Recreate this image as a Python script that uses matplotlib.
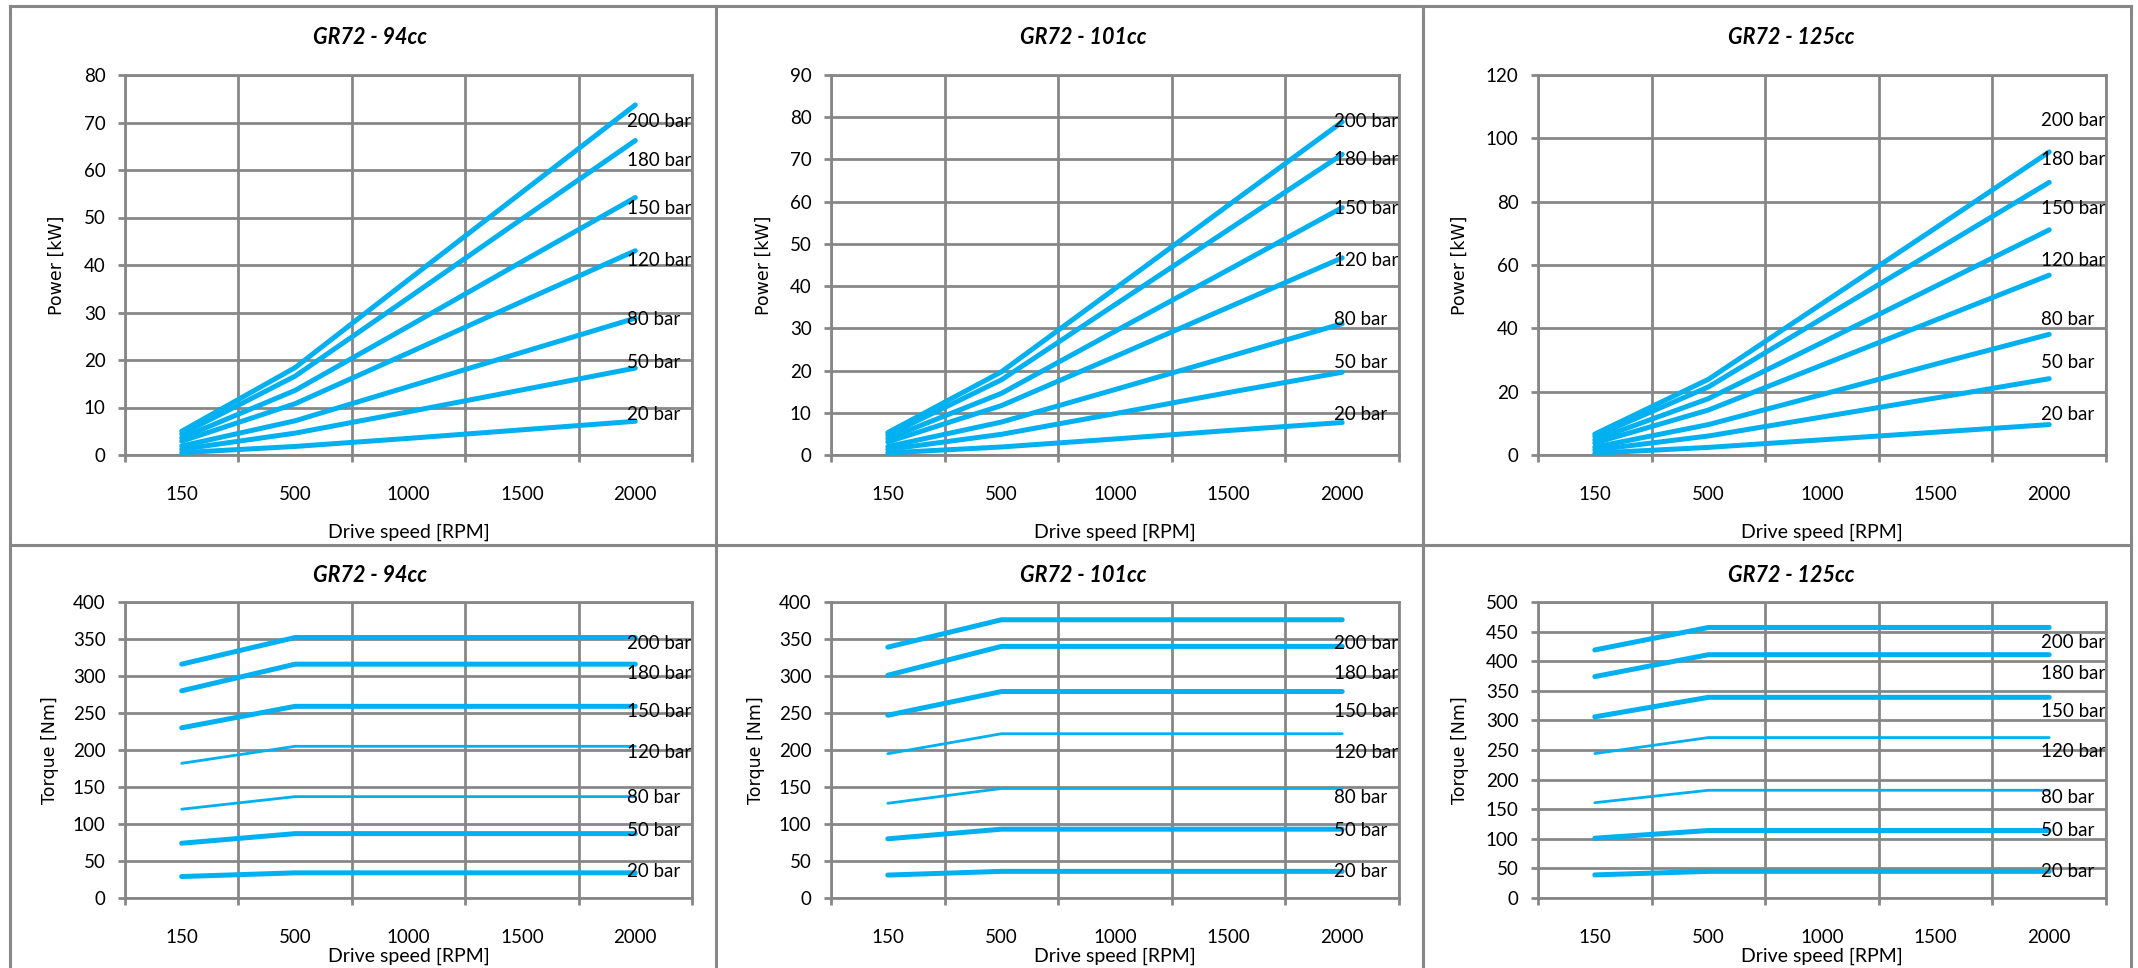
import numpy as np
import matplotlib
matplotlib.use('Agg')
import matplotlib.pyplot as plt
from matplotlib.lines import Line2D

# ---------------- data ----------------
speeds = ['150', '500', '1000', '1500', '2000']
pressures = ['200 bar', '180 bar', '150 bar', '120 bar', '80 bar', '50 bar', '20 bar']
models = ['GR72 - 94cc', 'GR72 - 101cc', 'GR72 - 125cc']

# Power [kW] per pressure (rows) and speed (columns)
power_94 = [
    [5.0, 18.4, 36.9, 55.3, 73.7],
    [4.4, 16.6, 33.1, 49.7, 66.2],
    [3.6, 13.6, 27.1, 40.7, 54.2],
    [2.9, 10.8, 21.5, 32.3, 43.0],
    [1.9, 7.2, 14.4, 21.6, 28.8],
    [1.2, 4.6, 9.1, 13.7, 18.3],
    [0.5, 1.8, 3.5, 5.3, 7.1],
]
power_101 = [
    [5.3, 19.7, 39.4, 59.2, 78.9],
    [4.7, 17.8, 35.6, 53.4, 71.2],
    [3.9, 14.6, 29.3, 43.9, 58.6],
    [3.1, 11.7, 23.3, 35.0, 46.7],
    [2.0, 7.8, 15.5, 23.3, 31.1],
    [1.3, 4.9, 9.8, 14.8, 19.6],
    [0.5, 1.9, 3.8, 5.8, 7.7],
]
power_125 = [
    [6.6, 23.9, 47.8, 71.7, 95.7],
    [5.9, 21.5, 43.1, 64.6, 86.1],
    [4.8, 17.8, 35.5, 53.3, 71.1],
    [3.8, 14.2, 28.4, 42.6, 56.8],
    [2.5, 9.6, 19.1, 28.7, 38.1],
    [1.6, 6.0, 12.0, 18.0, 24.1],
    [0.6, 2.4, 4.8, 7.2, 9.6],
]

# Torque [Nm]
torque_94 = [
    [316, 352, 352, 352, 352],
    [280, 316, 316, 316, 316],
    [230, 259, 259, 259, 259],
    [182, 205, 205, 205, 205],
    [120, 137, 137, 137, 137],
    [74, 87, 87, 87, 87],
    [29, 34, 34, 34, 34],
]
torque_101 = [
    [339, 376, 376, 376, 376],
    [301, 340, 340, 340, 340],
    [247, 279, 279, 279, 279],
    [195, 222, 222, 222, 222],
    [128, 148, 148, 148, 148],
    [80, 93, 93, 93, 93],
    [31, 36, 36, 36, 36],
]
torque_125 = [
    [419, 457, 457, 457, 457],
    [374, 411, 411, 411, 411],
    [306, 339, 339, 339, 339],
    [244, 271, 271, 271, 271],
    [161, 182, 182, 182, 182],
    [101, 114, 114, 114, 114],
    [39, 45, 45, 45, 45],
]

# label heights (data units) for the pressure annotations
power_lab_94 = [70.3, 62.1, 52.0, 40.9, 28.6, 19.4, 8.6]
power_lab_101 = [79.1, 69.9, 58.5, 46.0, 32.2, 21.8, 9.6]
power_lab_125 = [105.5, 93.2, 78.0, 61.3, 42.9, 29.1, 12.9]
torque_lab_94 = [344, 303, 252, 197, 136, 91, 36]
torque_lab_101 = [344, 303, 252, 197, 136, 91, 36]
torque_lab_125 = [431, 379, 315, 247, 170, 114, 45]

power_ylim = [(80, 10), (90, 10), (120, 20)]
torque_ylim = [(400, 50), (400, 50), (500, 50)]

# ---------------- style ----------------
BLUE = '#00B0F0'
GRID = '#878787'
FONT = ['Lato', 'DejaVu Sans']
plt.rcParams['font.family'] = FONT

W, H = 2138, 968
fig = plt.figure(figsize=(W / 100, H / 100), dpi=100)
fig.patch.set_facecolor('white')


def fx(x):
    return x / W


def fy(y):
    return 1 - y / H


def px_axes(l, t, r, b):
    return fig.add_axes([fx(l), fy(b), (r - l) / W, (b - t) / H])


# panel borders
border_kw = dict(color=GRID, lw=2.2, transform=fig.transFigure)
for bx, by in [((10, 10), (6, 968)), ((716, 716), (6, 968)), ((1423, 1423), (6, 968)),
               ((2131, 2131), (6, 968)), ((10, 2131), (6, 6)), ((10, 2131), (545, 545))]:
    fig.add_artist(Line2D([fx(bx[0]), fx(bx[1])], [fy(by[0]), fy(by[1])], **border_kw))

col_x = [(125, 692), (831, 1399), (1538, 2106)]
title_x = [370, 1083, 1791]
ylab_x_top = [57, 764, 1460]
ylab_x_bot = [50, 756, 1460]

thick = 3.6
thin = 2.0
torque_lw = [thick, thick, thick, thin, thin, thick, thick]

xs = np.arange(len(speeds))


def setup_axes(ax, ymax, step, ylabel, ylab_x, xlabel_y, xtick_pad):
    ax.set_xlim(-0.5, len(speeds) - 0.5)
    ax.set_ylim(0, ymax)
    ax.set_xticks(np.arange(-0.5, len(speeds), 1.0))
    ax.set_xticklabels([])
    ax.set_xticks(xs, minor=True)
    ax.set_xticklabels(speeds, minor=True, fontsize=13.5)
    ax.tick_params(axis='x', which='major', length=5, width=2, color=GRID, direction='out')
    ax.tick_params(axis='x', which='minor', length=0, pad=xtick_pad)
    ax.set_yticks(np.arange(0, ymax + 0.1, step))
    ax.set_yticklabels([f'{int(v)}' for v in np.arange(0, ymax + 0.1, step)], fontsize=13.5)
    ax.tick_params(axis='y', length=5, width=2, color=GRID, pad=9)
    ax.grid(True, which='major', color=GRID, lw=2)
    ax.set_axisbelow(True)
    for s in ax.spines.values():
        s.set_color(GRID)
        s.set_linewidth(2)
    bb = ax.get_position()
    fig.text(fx(ylab_x), bb.y0 + bb.height / 2, ylabel, rotation=90, ha='center', va='center',
             fontsize=12.5, family=['DejaVu Sans'])
    fig.text(bb.x0 + bb.width / 2, fy(xlabel_y), 'Drive speed [RPM]', ha='center', va='center',
             fontsize=14)


power_sets = [power_94, power_101, power_125]
torque_sets = [torque_94, torque_101, torque_125]
power_labs = [power_lab_94, power_lab_101, power_lab_125]
torque_labs = [torque_lab_94, torque_lab_101, torque_lab_125]

for i in range(3):
    l, r = col_x[i]
    # ---- power ----
    ax = px_axes(l, 75, r, 455)
    ymax, step = power_ylim[i]
    setup_axes(ax, ymax, step, 'Power [kW]', ylab_x_top[i], 532, 22)
    for k, p in enumerate(pressures):
        ax.plot(xs, power_sets[i][k], color=BLUE, lw=thick, solid_capstyle='round',
                solid_joinstyle='round', zorder=3)
        ax.text(3.93, power_labs[i][k], p, ha='left', va='center', fontsize=13.5, clip_on=True, zorder=4)
    fig.text(fx(title_x[i]), fy(37), models[i], ha='center', va='center', fontsize=15.5,
             fontweight='bold', fontstyle='italic')

    # ---- torque ----
    ax = px_axes(l, 602, r, 898)
    ymax, step = torque_ylim[i]
    setup_axes(ax, ymax, step, 'Torque [Nm]', ylab_x_bot[i], 956, 22)
    for k, p in enumerate(pressures):
        ax.plot(xs, torque_sets[i][k], color=BLUE, lw=torque_lw[k], solid_capstyle='round',
                solid_joinstyle='round', zorder=3)
        ax.text(3.93, torque_labs[i][k], p, ha='left', va='center', fontsize=13.5, clip_on=True, zorder=4)
    fig.text(fx(title_x[i]), fy(576), models[i], ha='center', va='center', fontsize=15.5,
             fontweight='bold', fontstyle='italic')

fig.savefig('out.png', dpi=100, facecolor='white')
